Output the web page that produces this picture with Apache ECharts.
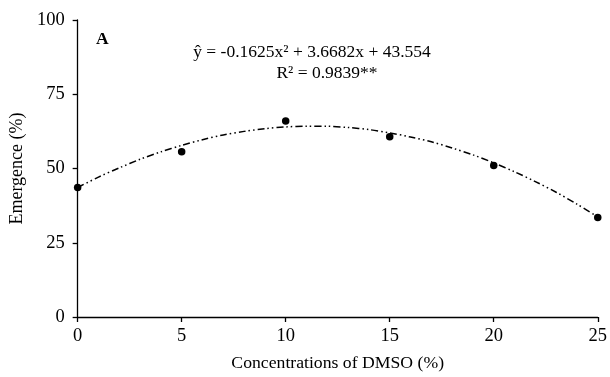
<!DOCTYPE html>
<html><head><meta charset="utf-8">
<script src="https://cdn.jsdelivr.net/npm/echarts@6/dist/echarts.min.js"></script>
<style>html,body{margin:0;padding:0;background:#fff}#c{width:610px;height:377px}</style>
</head><body><div id="c"></div>
<script>
var xTicks = [0, 5, 10, 15, 20, 25];
var yTicks = [0, 25, 50, 75, 100];
var obsX = [0, 5, 10, 15, 20, 25];
var obsY = [43.6, 55.6, 66.0, 60.7, 51.0, 33.5];
var fitX = [0, 1, 2, 3, 4, 5, 6, 7, 8, 9, 10, 11, 12, 13, 14, 15, 16, 17, 18, 19, 20, 21, 22, 23, 24, 25];
var fitY = [43.6, 47.1, 50.2, 53.1, 55.6, 57.8, 59.7, 61.3, 62.5, 63.4, 64.0, 64.2, 64.2, 63.8, 63.1, 62.0, 60.6, 59.0, 56.9, 54.6, 51.9, 48.9, 45.6, 42.0, 38.0, 33.7];
var equation = 'ŷ = -0.1625x² + 3.6682x + 43.554';
var r2 = 'R² = 0.9839**';
var panel = 'A';

var font = '"Liberation Serif", "Times New Roman", serif';
var chart = echarts.init(document.getElementById('c'), null, {renderer: 'canvas'});
chart.setOption({
  backgroundColor: '#fff',
  animation: false,
  textStyle: {fontFamily: font, color: '#000'},
  grid: {left: 74, right: 11, top: 20, bottom: 58, containLabel: false},
  xAxis: {
    type: 'value', min: xTicks[0], max: xTicks[xTicks.length-1], interval: 5,
    name: 'Concentrations of DMSO (%)', nameLocation: 'middle', nameGap: 37,
    nameTextStyle: {fontFamily: font, fontSize: 17.7, color: '#000'},
    axisLine: {lineStyle: {color: '#000', width: 1.3}},
    axisTick: {show: true, length: 5, lineStyle: {color: '#000', width: 1.3}},
    axisLabel: {fontFamily: font, fontSize: 18.5, color: '#000', margin: 10},
    splitLine: {show: false}
  },
  yAxis: {
    type: 'value', min: yTicks[0], max: yTicks[yTicks.length-1], interval: 25,
    name: 'Emergence (%)', nameLocation: 'middle', nameGap: 46, nameRotate: 90,
    nameTextStyle: {fontFamily: font, fontSize: 18, color: '#000'},
    axisLine: {show: true, lineStyle: {color: '#000', width: 1.3}},
    axisTick: {show: true, length: 5, lineStyle: {color: '#000', width: 1.3}},
    axisLabel: {fontFamily: font, fontSize: 18.5, color: '#000', margin: 13},
    splitLine: {show: false}
  },
  series: [
    {
      type: 'line', smooth: 0.3, symbol: 'none',
      data: fitX.map(function(x, i){ return [x, fitY[i]]; }),
      lineStyle: {color: '#000', width: 1.5, type: [7, 3, 1.5, 3, 1.5, 3]},
      z: 2
    },
    {
      type: 'scatter', symbol: 'circle', symbolSize: 7.5,
      data: obsX.map(function(x, i){ return [x, obsY[i]]; }),
      itemStyle: {color: '#000', opacity: 1},
      z: 3
    }
  ],
  graphic: [
    {type: 'text', left: 96, top: 30, style: {text: panel, font: 'bold 17.5px ' + font, fill: '#000'}},
    {type: 'text', x: 312, y: 52, style: {text: equation, font: '17.5px ' + font, fill: '#000', textAlign: 'center', textVerticalAlign: 'middle'}},
    {type: 'text', x: 327, y: 73, style: {text: r2, font: '17.5px ' + font, fill: '#000', textAlign: 'center', textVerticalAlign: 'middle'}}
  ]
});
</script>
</body></html>
